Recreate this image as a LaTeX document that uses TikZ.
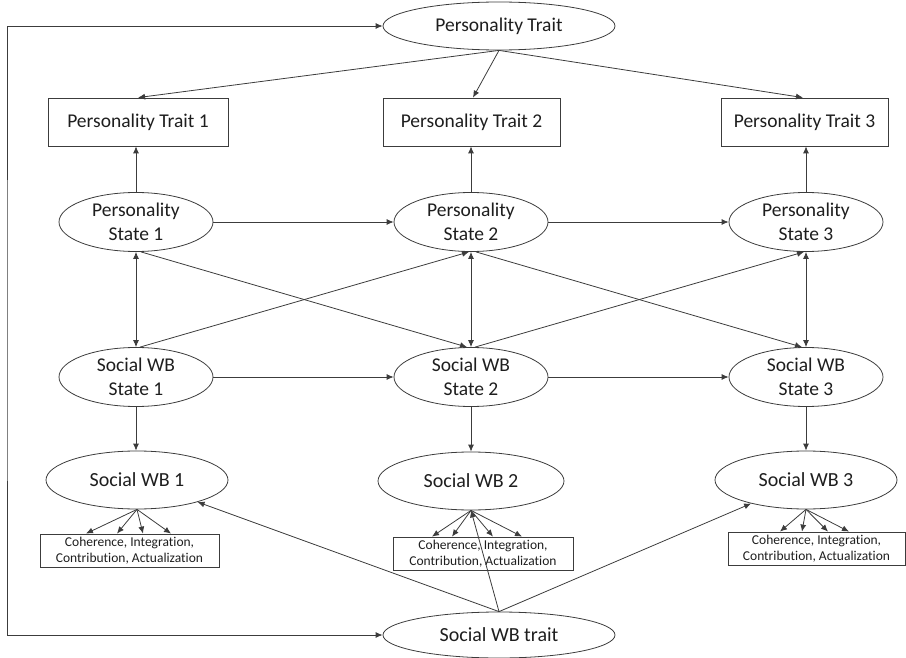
\documentclass[tikz,border=0pt]{standalone}
\usepackage{fontspec}
\setmainfont{Carlito}[Ligatures={NoCommon}]
\usetikzlibrary{arrows.meta,shapes.geometric}
\definecolor{lc}{RGB}{60,60,60}
\definecolor{tc}{RGB}{30,30,30}
\begin{document}
\begin{tikzpicture}[x=1pt,y=-1pt,
  every node/.style={text=tc},
  ell/.style={ellipse,draw=lc,line width=0.8pt,inner sep=0pt,align=center,font=\fontsize{19.5}{24}\selectfont},
  rbox/.style={rectangle,draw=lc,line width=0.8pt,inner sep=0pt,minimum height=48pt,font=\fontsize{19.5}{23}\selectfont},
  cbox/.style={rectangle,draw=lc,line width=0.8pt,inner sep=0pt,minimum height=33pt,align=center,font=\fontsize{13.5}{16}\selectfont},
  arr/.style={draw=lc,line width=0.8pt,-{Latex[length=7pt,width=6pt]}},
  darr/.style={draw=lc,line width=0.8pt,{Latex[length=7pt,width=6pt]}-{Latex[length=7pt,width=6pt]}}]
\useasboundingbox (0,0) rectangle (906,658);

% top trait
\node[ell,minimum width=232pt,minimum height=48pt] (PT) at (499,26) {Personality Trait};
\node[rbox,minimum width=180pt] (PT1) at (138,122) {Personality Trait 1};
\node[rbox,minimum width=177pt] (PT2) at (471.5,122) {Personality Trait 2};
\node[rbox,minimum width=167pt] (PT3) at (804.5,122) {Personality Trait 3};

% personality states
\node[ell,minimum width=154pt,minimum height=59pt] (PS1) at (136,222) {Personality\\State 1};
\node[ell,minimum width=154pt,minimum height=59pt] (PS2) at (471,222) {Personality\\State 2};
\node[ell,minimum width=154pt,minimum height=59pt] (PS3) at (806,222) {Personality\\State 3};

% social wb states
\node[ell,minimum width=154pt,minimum height=59pt] (SS1) at (136,377) {Social WB\\State 1};
\node[ell,minimum width=154pt,minimum height=59pt] (SS2) at (471,377) {Social WB\\State 2};
\node[ell,minimum width=154pt,minimum height=59pt] (SS3) at (806,377) {Social WB\\State 3};

% social wb
\node[ell,minimum width=182pt,minimum height=58pt,font=\fontsize{20}{24}\selectfont] (SW1) at (137,480) {Social WB 1};
\node[ell,minimum width=186pt,minimum height=58pt,font=\fontsize{20}{24}\selectfont] (SW2) at (471,481) {Social WB 2};
\node[ell,minimum width=182pt,minimum height=58pt,font=\fontsize{20}{24}\selectfont] (SW3) at (806,480) {Social WB 3};

% indicator boxes
\node[cbox,minimum width=179pt] (C1) at (129.5,550.5) {Coherence, Integration,\\Contribution, Actualization};
\node[cbox,minimum width=180pt] (C2) at (483,553.5) {Coherence, Integration,\\Contribution, Actualization};
\node[cbox,minimum width=177pt] (C3) at (816.5,548.5) {Coherence, Integration,\\Contribution, Actualization};

% bottom trait
\node[ell,minimum width=232pt,minimum height=46pt,font=\fontsize{20}{24}\selectfont] (SWT) at (499,635) {Social WB trait};

% trait to trait indicators
\draw[arr] (PT.south) -- (PT1.north);
\draw[arr] (PT.south) -- ([xshift=1.5pt]PT2.north);
\draw[arr] (PT.south) -- ([xshift=-1.5pt]PT3.north);

% states to trait indicators
\draw[arr] (PS1.north) -- (PS1.north |- PT1.south);
\draw[arr] (PS2.north) -- (PS2.north |- PT2.south);
\draw[arr] (PS3.north) -- (PS3.north |- PT3.south);

% autoregressive
\draw[arr] (PS1.east) -- (PS2.west);
\draw[arr] (PS2.east) -- (PS3.west);
\draw[arr] (SS1.east) -- (SS2.west);
\draw[arr] (SS2.east) -- (SS3.west);

% within-time correlations
\draw[darr] (PS1.south) -- (SS1.north);
\draw[darr] (PS2.south) -- (SS2.north);
\draw[darr] (PS3.south) -- (SS3.north);

% cross-lagged
\draw[arr] ([xshift=5pt]PS1.south) -- ([xshift=-4pt]SS2.north);
\draw[arr] ([xshift=4pt]SS1.north) -- ([xshift=-2pt]PS2.south);
\draw[arr] ([xshift=5pt]PS2.south) -- ([xshift=-4pt]SS3.north);
\draw[arr] ([xshift=4pt]SS2.north) -- ([xshift=-2pt]PS3.south);

% states to social wb
\draw[arr] (SS1.south) -- (SS1.south |- SW1.north);
\draw[arr] (SS2.south) -- (SS2.south |- SW2.north);
\draw[arr] (SS3.south) -- (SS3.south |- SW3.north);

% social wb to indicators
\foreach \d in {-43.5,-12.5,13.5,41.5} \draw[arr] (SW1.south) -- ([xshift=\d pt]C1.north);
\foreach \d in {-51,-31,10,39} \draw[arr] (SW2.south) -- ([xshift=\d pt]C2.north);
\foreach \d in {-36.5,-14.5,11.5,32.5} \draw[arr] (SW3.south) -- ([xshift=\d pt]C3.north);

% social wb trait to social wb
\coordinate (t) at (SWT.north);
\draw[arr] (t) -- (SW1);
\draw[arr] (t) -- (SW2.south);
\draw[arr] (t) -- (SW3);

% trait correlation
\coordinate (lx) at (7,330);
\draw[darr] (PT.west) -| (lx) |- (SWT.west);
\end{tikzpicture}
\end{document}
